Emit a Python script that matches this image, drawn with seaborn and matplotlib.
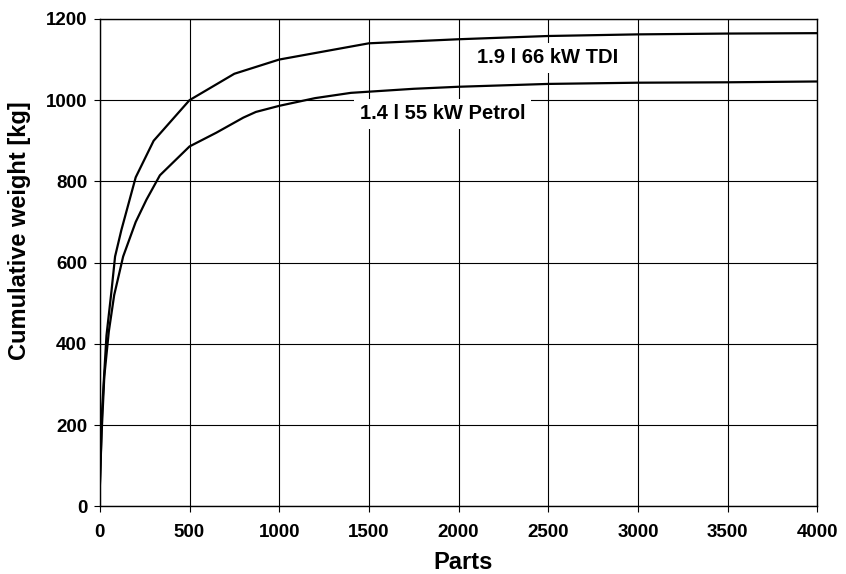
import numpy as np
import pandas as pd
import matplotlib.pyplot as plt
import seaborn as sns

# Cumulative weight curves
parts_tdi = [0, 13, 37, 65, 85, 120, 200, 300, 500, 750, 1000, 1500, 2000, 2500, 3000, 3500, 4000]
weight_tdi = [45, 240, 420, 530, 615, 680, 810, 900, 1000, 1065, 1100, 1140, 1150, 1158, 1162, 1164, 1165]

parts_petrol = [0, 10, 25, 50, 80, 130, 200, 260, 335, 500, 650, 800, 870, 1000, 1200, 1400,
                1750, 2000, 2500, 3000, 3500, 4000]
weight_petrol = [50, 180, 320, 430, 520, 615, 700, 755, 815, 886, 920, 957, 971, 986, 1005, 1018,
                 1028, 1033, 1040, 1043, 1044, 1046]

label_tdi = '1.9 l 66 kW TDI'
label_petrol = '1.4 l 55 kW Petrol'

df = pd.concat([
    pd.DataFrame({'parts': parts_tdi, 'weight': weight_tdi, 'engine': label_tdi}),
    pd.DataFrame({'parts': parts_petrol, 'weight': weight_petrol, 'engine': label_petrol}),
])

sns.set_style('ticks')
plt.rcParams['font.family'] = ['Liberation Sans', 'DejaVu Sans']
plt.rcParams['font.weight'] = 'bold'
plt.rcParams['text.color'] = 'black'
plt.rcParams['axes.labelcolor'] = 'black'

fig, ax = plt.subplots(figsize=(8.46, 5.74), dpi=100)
fig.subplots_adjust(left=0.118, right=0.966, bottom=0.118, top=0.967)

sns.lineplot(data=df, x='parts', y='weight', units='engine', estimator=None,
             color='black', linewidth=1.6, ax=ax, legend=False, sort=False)

ax.set_xlim(0, 4000)
ax.set_ylim(0, 1200)
ax.set_xticks(np.arange(0, 4001, 500))
ax.set_yticks(np.arange(0, 1201, 200))
ax.grid(True, color='black', linewidth=0.8)
ax.set_axisbelow(True)
for s in ax.spines.values():
    s.set_color('black')
    s.set_linewidth(1.0)
ax.tick_params(direction='out', length=4, width=0.8, colors='black', labelsize=13.5)
ax.tick_params(axis='x', pad=9)
ax.tick_params(axis='y', pad=5)
for t in ax.get_xticklabels() + ax.get_yticklabels():
    t.set_fontweight('bold')

ax.set_xlabel('Parts', fontsize=17, fontweight='bold')
ax.set_ylabel('Cumulative weight [kg]', fontsize=17, fontweight='bold')
ax.xaxis.set_label_coords(0.506, -0.091)
ax.yaxis.set_label_coords(-0.096, 0.565)

ax.text(2499, 1104, label_tdi, ha='center', va='center', fontsize=14.5, fontweight='bold',
        bbox=dict(facecolor='white', edgecolor='none', pad=4))
ax.text(1911, 966, label_petrol, ha='center', va='center', fontsize=14.5, fontweight='bold',
        bbox=dict(facecolor='white', edgecolor='none', pad=4))

plt.savefig('out.png', dpi=100)
